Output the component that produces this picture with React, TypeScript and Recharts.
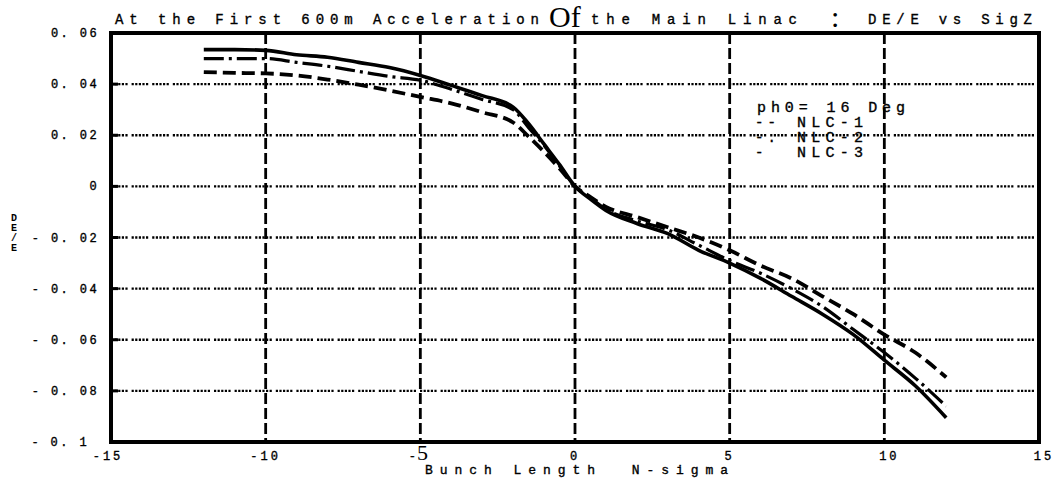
import React from 'react';
import { LineChart, Line, XAxis, YAxis, CartesianGrid, ReferenceArea } from 'recharts';

const xValues = [-12, -11, -10, -9, -8, -7, -6, -5, -4, -3, -2, -1.5, -1, -0.5, 0, 0.5, 1, 2, 3, 4, 5, 6, 7, 8, 9, 10, 11, 12];
const nlc1 = [0.0447, 0.0444, 0.0442, 0.0434, 0.0418, 0.0398, 0.0375, 0.035, 0.0325, 0.029, 0.025, 0.0195, 0.0135, 0.007, 0, -0.0042, -0.008, -0.012, -0.016, -0.02, -0.025, -0.031, -0.036, -0.043, -0.05, -0.058, -0.065, -0.0747];
const nlc2 = [0.05, 0.05, 0.05, 0.0485, 0.047, 0.045, 0.043, 0.0415, 0.038, 0.034, 0.03, 0.023, 0.016, 0.008, 0, -0.0045, -0.009, -0.0135, -0.017, -0.023, -0.029, -0.034, -0.04, -0.047, -0.056, -0.065, -0.075, -0.086];
const nlc3 = [0.0535, 0.0535, 0.0532, 0.0515, 0.0505, 0.0485, 0.0465, 0.0434, 0.0395, 0.0355, 0.031, 0.0245, 0.0165, 0.0085, 0, -0.005, -0.0094, -0.0145, -0.0185, -0.025, -0.03, -0.036, -0.043, -0.05, -0.058, -0.068, -0.078, -0.0905];

const xTicks = [-15, -10, -5, 0, 5, 10, 15];
const xTickLabels = ['-15', '-10', '-5', '0', '5', '10', '15'];
const yTicks = [-0.1, -0.08, -0.06, -0.04, -0.02, 0, 0.02, 0.04, 0.06];
const yTickLabels = ['- 0. 1', '- 0. 08', '- 0. 06', '- 0. 04', '- 0. 02', '0', '0. 02', '0. 04', '0. 06'];

const legendTitle = 'ph0= 16 Deg';
const legendSamples = ['--', '-.', '-'];
const legendNames = ['NLC-1', 'NLC-2', 'NLC-3'];
const titleParts = ['At the First 600m Acceleration', 'Of', 'the Main Linac', ':', 'DE/E vs SigZ'];
const xAxisTitle = 'Bunch Length  N-sigma';
const yAxisTitle = ['D', 'E', '/', 'E'];

const data = xValues.map((x, i) => ({ x, nlc1: nlc1[i], nlc2: nlc2[i], nlc3: nlc3[i] }));

const MONO = '"Liberation Mono", "DejaVu Sans Mono", monospace';
const SERIF = '"Liberation Serif", "DejaVu Serif", serif';
const thick = { stroke: '#000', strokeWidth: 0.35 };

const XTick = (props: any) => {
  const { x, y, payload } = props;
  const idx = xTicks.findIndex((t) => Math.abs(t - payload.value) < 1e-9);
  const label = idx >= 0 ? xTickLabels[idx] : '';
  if (label === '-5') {
    return (
      <text x={x - 2} y={y + 18} textAnchor="middle" fill="#000">
        <tspan fontFamily={MONO} fontSize={12} {...thick}>-</tspan>
        <tspan fontFamily={SERIF} fontSize={22} dx={1}>5</tspan>
      </text>
    );
  }
  return (
    <text x={x + (idx === 0 ? -3 : idx >= 5 ? 5 : 0)} y={y + 18} textAnchor="middle" fontFamily={MONO} fontSize={12} letterSpacing={3} fill="#000" {...thick}>
      {label}
    </text>
  );
};

const YTick = (props: any) => {
  const { x, y, payload } = props;
  const idx = yTicks.findIndex((t) => Math.abs(t - payload.value) < 1e-9);
  const label = idx >= 0 ? yTickLabels[idx] : '';
  const edge = idx === 0 || idx === yTicks.length - 1;
  return (
    <g>
      {!edge && <line x1={x} x2={x + 7} y1={y} y2={y} stroke="#000" strokeWidth={3} />}
      <text x={x - (idx === 0 ? 22 : 12)} y={y + 4} textAnchor="end" fontFamily={MONO} fontSize={12} letterSpacing={2.4} fill="#000" {...thick} style={{ whiteSpace: 'pre' }}>
        {label}
      </text>
    </g>
  );
};

export default function App() {
  return (
    <div style={{ position: 'absolute', left: 0, top: 0, width: 1054, height: 480, background: '#fff' }}>
      <LineChart width={1054} height={480} data={data} margin={{ top: 33, right: 15, bottom: 0, left: 0 }}>
        <CartesianGrid
          horizontal
          vertical={false}
          stroke="#000"
          strokeWidth={2.4}
          strokeDasharray="2.2 1.4 2.2 1.4 2.2 1.4 2.2 1.4 2.2 4"
        />
        <CartesianGrid horizontal={false} vertical stroke="#000" strokeWidth={2.8} strokeDasharray="11 4" />
        <XAxis
          type="number"
          dataKey="x"
          domain={[-15, 15]}
          ticks={xTicks}
          interval={0}
          height={38}
          axisLine={false}
          tickLine={false}
          tickSize={0}
          tickMargin={0}
          tick={<XTick />}
          allowDataOverflow
        />
        <YAxis
          type="number"
          domain={[-0.1, 0.06]}
          ticks={yTicks}
          interval={0}
          width={111}
          axisLine={false}
          tickLine={false}
          tickSize={0}
          tickMargin={0}
          tick={<YTick />}
          allowDataOverflow
        />
        <ReferenceArea x1={-15} x2={15} y1={-0.1} y2={0.06} fill="none" fillOpacity={0} stroke="#000" strokeWidth={4} />
        <Line type="monotone" dataKey="nlc1" stroke="#000" strokeWidth={3.8} strokeDasharray="13 6" dot={false} isAnimationActive={false} />
        <Line type="monotone" dataKey="nlc2" stroke="#000" strokeWidth={3.2} strokeDasharray="20 5 3 5" dot={false} isAnimationActive={false} />
        <Line type="monotone" dataKey="nlc3" stroke="#000" strokeWidth={3.6} dot={false} isAnimationActive={false} />
      </LineChart>
      <svg width={1054} height={480} style={{ position: 'absolute', left: 0, top: 0, pointerEvents: 'none' }}>
        <text x={115} y={24} fontFamily={MONO} fontSize={14} textLength={424} lengthAdjust="spacing" fill="#000" {...thick}>{titleParts[0]}</text>
        <text x={549} y={27} fontFamily={SERIF} fontSize={30} fill="#000">{titleParts[1]}</text>
        <text x={591} y={24} fontFamily={MONO} fontSize={14} textLength={206} lengthAdjust="spacing" fill="#000" {...thick}>{titleParts[2]}</text>
        <text x={831} y={27} fontFamily={SERIF} fontSize={30} fill="#000">{titleParts[3]}</text>
        <text x={868} y={24} fontFamily={MONO} fontSize={14} textLength={164} lengthAdjust="spacing" fill="#000" {...thick}>{titleParts[4]}</text>
        <text x={757} y={112} fontFamily={MONO} fontSize={15} textLength={148} lengthAdjust="spacing" fill="#000" {...thick} style={{ whiteSpace: 'pre' }}>{legendTitle}</text>
        {legendNames.map((n, i) => (
          <g key={i}>
            <text x={755} y={127 + i * 15} fontFamily={MONO} fontSize={14} letterSpacing={4} fill="#000" {...thick}>{legendSamples[i]}</text>
            <text x={797} y={127 + i * 15} fontFamily={MONO} fontSize={15} textLength={66} lengthAdjust="spacing" fill="#000" {...thick}>{n}</text>
          </g>
        ))}
        {yAxisTitle.map((c, i) => (
          <text key={i} x={14} y={221 + i * 10} textAnchor="middle" fontFamily={MONO} fontWeight="bold" fontSize={10} fill="#000">{c}</text>
        ))}
        <text x={425} y={474} fontFamily={MONO} fontSize={13} textLength={303} lengthAdjust="spacing" fill="#000" {...thick} style={{ whiteSpace: 'pre' }}>{xAxisTitle}</text>
      </svg>
    </div>
  );
}
